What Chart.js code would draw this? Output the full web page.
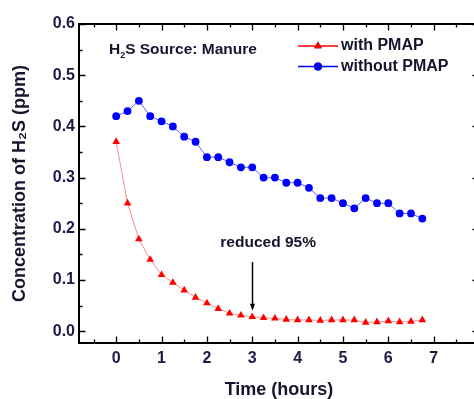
<!DOCTYPE html>
<html>
<head>
<meta charset="utf-8">
<script src="https://cdn.jsdelivr.net/npm/chart.js@4.4.1/dist/chart.umd.min.js"></script>
<style>
html, body { margin: 0; padding: 0; background: #fff; overflow: hidden; }
#wrap { width: 500px; height: 399px; }
</style>
</head>
<body>
<div id="wrap"><canvas id="myChart"></canvas></div>
<script>
// values
const hours = [0, 0.25, 0.5, 0.75, 1, 1.25, 1.5, 1.75, 2, 2.25, 2.5, 2.75, 3, 3.25,
    3.5, 3.75, 4, 4.25, 4.5, 4.75, 5, 5.25, 5.5, 5.75, 6, 6.25, 6.5, 6.75];
const withPMAP = [0.37, 0.25, 0.18, 0.14, 0.11, 0.095, 0.08, 0.066, 0.055, 0.044, 0.035, 0.031,
    0.028, 0.026, 0.025, 0.023, 0.022, 0.022, 0.021, 0.022, 0.022, 0.022, 0.017, 0.018, 0.02,
    0.018, 0.019, 0.022];
const withoutPMAP = [0.42, 0.43, 0.45, 0.42, 0.41, 0.40, 0.38, 0.37, 0.34, 0.34, 0.33, 0.32,
    0.32, 0.30, 0.30, 0.29, 0.29, 0.28, 0.26, 0.26, 0.25, 0.24, 0.26, 0.25, 0.25, 0.23, 0.23, 0.22];
const seriesNames = ['with PMAP', 'without PMAP'];
const seriesColors = ['#ff0000', '#0000ff'];
const lineColors = ['rgba(255, 60, 60, 0.75)', 'rgba(40, 40, 255, 0.75)'];
const arrowAt = [3, 0.135, 0.04];   // x, from, to
const noteText = 'reduced 95%';

const FONT = '"Liberation Sans", Arial, sans-serif';
const INK = '#15152e';

function toPoints(ys) {
    return hours.map((h, i) => ({ x: h, y: ys[i] }));
}

// frame, inward ticks, legend and the notes
const decorations = {
    id: 'decorations',
    afterDatasetsDraw(chart) {
        const ctx = chart.ctx;
        const a = chart.chartArea;
        const xs = chart.scales.x;
        const ys = chart.scales.y;
        ctx.save();
        ctx.strokeStyle = '#000';
        ctx.lineWidth = 1.3;
        // minor/major ticks on all four sides
        for (let v = -0.5; v <= 8.001; v += 0.5) {
            const px = Math.round(xs.getPixelForValue(v)) + 0.5;
            const len = Number.isInteger(v) ? 6.5 : 3.5;
            ctx.beginPath();
            ctx.moveTo(px, a.bottom); ctx.lineTo(px, a.bottom - len);
            ctx.moveTo(px, a.top); ctx.lineTo(px, a.top + len);
            ctx.stroke();
        }
        for (let k = 0; k <= 12; k++) {
            const py = Math.round(ys.getPixelForValue(k * 0.05)) + 0.5;
            const len = k % 2 === 0 ? 6.5 : 3.5;
            ctx.beginPath();
            ctx.moveTo(a.left, py); ctx.lineTo(a.left + len, py);
            ctx.moveTo(a.right, py); ctx.lineTo(a.right - len, py);
            ctx.stroke();
        }
        ctx.lineWidth = 2;
        ctx.strokeRect(a.left, a.top, a.right - a.left, a.bottom - a.top);

        // legend
        ctx.font = 'bold 16px ' + FONT;
        ctx.textBaseline = 'middle';
        ctx.textAlign = 'left';
        chart.data.datasets.forEach((ds, i) => {
            const y = 46 + i * 20.5;
            ctx.strokeStyle = seriesColors[i];
            ctx.lineWidth = 1.5;
            ctx.beginPath();
            ctx.moveTo(298, y); ctx.lineTo(338, y);
            ctx.stroke();
            Chart.helpers.drawPoint(ctx, {
                pointStyle: ds.pointStyle, radius: ds.pointRadius, rotation: 0, borderWidth: 0
            }, 318, y);
            ctx.fillStyle = ds.backgroundColor;
            ctx.fill();
            ctx.fillStyle = INK;
            ctx.fillText(ds.label, 341, y);
        });

        // "H2S Source: Manure"
        let x = xs.getPixelForValue(-0.16);
        const y0 = ys.getPixelForValue(0.549);
        ctx.fillStyle = INK;
        ctx.font = 'bold 15.5px ' + FONT;
        ctx.fillText('H', x, y0);
        x += ctx.measureText('H').width;
        ctx.font = 'bold 9px ' + FONT;
        ctx.fillText('2', x, y0 + 5);
        x += ctx.measureText('2').width;
        ctx.font = 'bold 15.5px ' + FONT;
        ctx.fillText('S Source: Manure', x, y0);

        // reduction note and arrow
        ctx.textAlign = 'center';
        ctx.font = 'bold 15.5px ' + FONT;
        ctx.fillText(noteText, xs.getPixelForValue(3.35), ys.getPixelForValue(0.173));
        const ax = Math.round(xs.getPixelForValue(arrowAt[0])) + 0.5;
        const ay1 = ys.getPixelForValue(arrowAt[1]);
        const ay2 = ys.getPixelForValue(arrowAt[2]);
        ctx.strokeStyle = '#000';
        ctx.lineWidth = 1.5;
        ctx.beginPath();
        ctx.moveTo(ax, ay1); ctx.lineTo(ax, ay2 - 4);
        ctx.stroke();
        ctx.fillStyle = '#000';
        ctx.beginPath();
        ctx.moveTo(ax - 2.5, ay2 - 7); ctx.lineTo(ax + 2.5, ay2 - 7); ctx.lineTo(ax, ay2);
        ctx.closePath();
        ctx.fill();
        ctx.restore();
    }
};

const ctx = document.getElementById('myChart');

new Chart(ctx, {
    type: 'scatter',
    data: {
        datasets: [{
            label: seriesNames[0],
            data: toPoints(withPMAP),
            showLine: true,
            borderColor: lineColors[0],
            backgroundColor: seriesColors[0],
            borderWidth: 0.8,
            pointStyle: 'triangle',
            pointRadius: 4.4,
            pointBorderWidth: 0
        }, {
            label: seriesNames[1],
            data: toPoints(withoutPMAP),
            showLine: true,
            borderColor: lineColors[1],
            backgroundColor: seriesColors[1],
            borderWidth: 1,
            pointStyle: 'circle',
            pointRadius: 3.9,
            pointBorderWidth: 0
        }]
    },
    options: {
        responsive: true,
        maintainAspectRatio: false,
        animation: false,
        layout: {
            padding: { left: 0, right: 21, top: 24, bottom: 0 }
        },
        plugins: {
            legend: { display: false },
            tooltip: { enabled: false }
        },
        scales: {
            x: {
                type: 'linear',
                min: -0.82,
                max: 8,
                afterFit: function(scale) { scale.height = 56; },
                grid: { display: false, drawTicks: false },
                border: { display: false },
                ticks: {
                    stepSize: 1,
                    includeBounds: false,
                    autoSkip: false,
                    maxRotation: 0,
                    padding: 6,
                    color: '#1b1b45',
                    font: { family: FONT, size: 16, weight: 'bold' }
                },
                title: {
                    display: true,
                    text: 'Time (hours)',
                    color: INK,
                    padding: { top: 0, bottom: 0 },
                    font: { family: FONT, size: 18, weight: 'bold', lineHeight: 1.0 }
                }
            },
            y: {
                min: -0.023,
                max: 0.6,
                afterFit: function(scale) { scale.width = 79; },
                grid: { display: false, drawTicks: false },
                border: { display: false },
                ticks: {
                    stepSize: 0.1,
                    includeBounds: false,
                    padding: 4,
                    color: '#1b1b45',
                    callback: function(val) { return val.toFixed(1); },
                    font: { family: FONT, size: 16, weight: 'bold' }
                },
                title: {
                    display: true,
                    text: 'Concentration of H₂S (ppm)',
                    color: INK,
                    padding: { top: 9, bottom: 0 },
                    font: { family: FONT, size: 18, weight: 'bold', lineHeight: 1.2 }
                }
            }
        }
    },
    plugins: [decorations]
});
</script>
</body>
</html>
